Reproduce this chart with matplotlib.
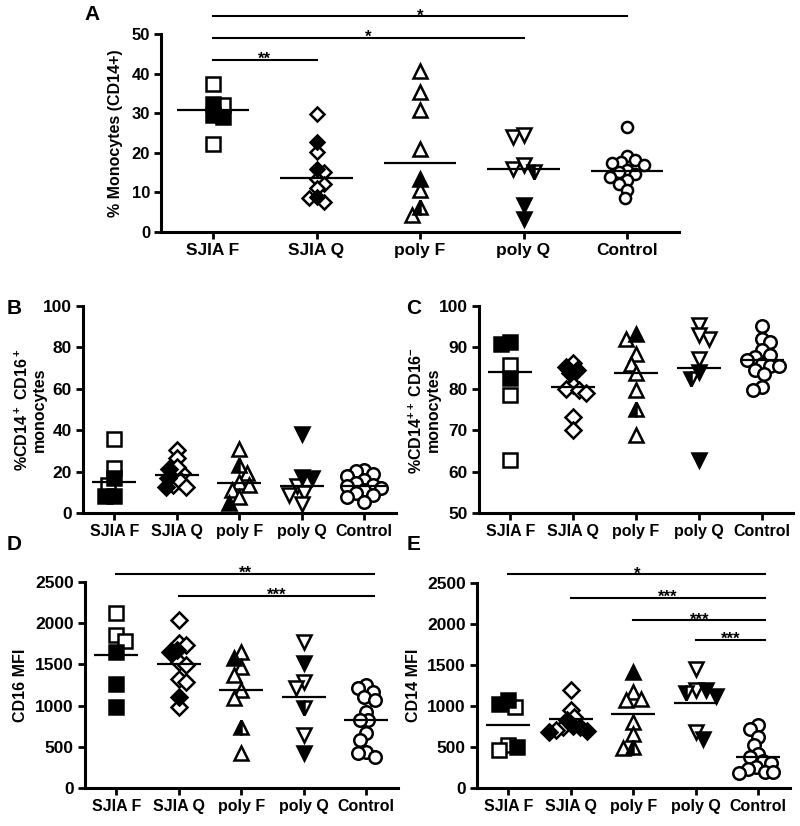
import numpy as np
import matplotlib
matplotlib.use("Agg")
import matplotlib.pyplot as plt

plt.rcParams['font.family'] = ['Liberation Sans', 'DejaVu Sans']
plt.rcParams['font.weight'] = 'bold'
plt.rcParams['mathtext.fontset'] = 'custom'
plt.rcParams['mathtext.rm'] = 'Liberation Sans:bold'
plt.rcParams['mathtext.bf'] = 'Liberation Sans:bold'
plt.rcParams['mathtext.default'] = 'bf'

groups = ['SJIA F', 'SJIA Q', 'poly F', 'poly Q', 'Control']
markers = ['s', 'D', '^', 'v', 'o']

# panel A - % monocytes
a_open = [[37.4, 32.1, 22.3], [29.8, 20.2, 13.5, 15.2, 12.2, 11.0, 7.6, 8.5],
          [40.7, 35.3, 30.7, 21.0, 10.6, 4.3], [24.0, 24.4, 16.0, 16.8],
          [26.5, 19.3, 17.7, 18.1, 17.3, 15.6, 16.8, 14.7, 15.2, 13.2, 13.9, 12.1, 10.6, 8.5]]
a_filled = [[29.6, 32.3, 29.0], [22.7, 16.0, 8.9], [13.5], [6.8, 3.4], []]
a_half = [[], [], [6.4], [15.2], []]
a_median = [30.8, 13.7, 17.3, 16.0, 15.4]
a_pairs = [(0, 1), (0, 3), (0, 4)]
a_stars = ['**', '*', '*']
a_levels = [43.5, 49.0, 54.5]

# panel B - CD14+ CD16+
b_open = [[36.0, 22.0, 13.5], [30.4, 26.6, 19.5, 18.4, 13.8, 22.5, 15.5, 12.8],
          [31.0, 19.2, 15.2, 13.5, 11.2, 8.0], [13.1, 9.6, 9.0, 4.5],
          [21.0, 20.5, 19.0, 18.0, 16.0, 14.5, 13.5, 13.0, 12.0, 11.0, 10.0, 9.0, 8.0, 5.5]]
b_filled = [[17.0, 8.5, 8.5], [21.5, 17.0, 12.5], [5.0], [38.0, 17.6, 16.8], []]
b_half = [[], [], [23.2], [], []]
b_median = [15.2, 18.4, 14.4, 13.1, 13.3]

# panel C - CD14++ CD16-
c_open = [[85.8, 78.4, 62.8], [86.1, 80.9, 80.0, 79.6, 78.9, 73.3, 70.1],
          [92.1, 88.3, 86.0, 83.7, 79.6, 68.8], [95.3, 92.1, 92.9, 87.3],
          [95.1, 92.1, 91.3, 89.3, 88.1, 87.7, 86.9, 86.0, 85.6, 85.6, 84.5, 83.6, 80.4, 79.6]]
c_filled = [[91.3, 90.9, 82.6], [85.3, 84.5, 83.7], [93.3], [84.0, 62.8], []]
c_half = [[], [], [75.2], [82.4], []]
c_median = [84.0, 80.4, 83.7, 84.9, 87.0]

# panel D - CD16 MFI
d_open = [[2125, 1855, 1786], [2036, 1762, 1734, 1532, 1492, 1319, 1290, 987],
          [1653, 1471, 1371, 1189, 1089, 423], [1774, 1290, 1210, 645],
          [1250, 1210, 1170, 1110, 1068, 927, 826, 826, 665, 584, 443, 423, 382]]
d_filled = [[1653, 1262, 987], [1673, 1653, 1108], [1573], [1512, 423], []]
d_half = [[], [], [745], [968], []]
d_median = [1610, 1500, 1195, 1100, 830]
d_pairs = [(0, 4), (1, 4)]
d_stars = ['**', '***']
d_levels = [2593, 2330]

# panel E - CD14 MFI
e_open = [[987, 524, 463], [1190, 955, 870, 745, 705], [1169, 1068, 1089, 806, 665, 484],
          [1452, 1190, 685],
          [770, 720, 625, 525, 420, 382, 330, 310, 260, 230, 200, 200, 180]]
e_filled = [[1028, 1068, 503], [830, 760, 700, 690, 740], [1411], [1190, 1120, 605], []]
e_half = [[], [], [503], [1160], []]
e_median = [766, 838, 907, 1036, 382]
e_pairs = [(0, 4), (1, 4), (2, 4), (3, 4)]
e_stars = ['*', '***', '***', '***']
e_levels = [2602, 2318, 2045, 1803]

W, H = 800, 826
fig = plt.figure(figsize=(W / 100, H / 100), dpi=100)


def make_ax(l, r, t, b, ylim, yticks, xsize=11.5, ysize=12.5):
    ax = fig.add_axes([l / W, 1 - b / H, (r - l) / W, (b - t) / H])
    ax.set_xlim(-0.5, 4.5)
    ax.set_ylim(*ylim)
    ax.set_yticks(yticks)
    ax.set_xticks(range(5))
    ax.set_xticklabels(groups)
    for s in ['top', 'right']:
        ax.spines[s].set_visible(False)
    for s in ['left', 'bottom']:
        ax.spines[s].set_linewidth(2.2)
    ax.tick_params(direction='out', length=5, width=2, pad=3)
    ax.tick_params(axis='x', labelsize=xsize)
    ax.tick_params(axis='y', labelsize=ysize)
    for lab in ax.get_xticklabels() + ax.get_yticklabels():
        lab.set_fontweight('bold')
    return ax


def swarm(ax, vals, diam):
    # simple beeswarm in pixel space, returns x offsets in data units
    if len(vals) == 0:
        return np.array([])
    vals = np.asarray(vals, float)
    ys = ax.transData.transform(np.column_stack([np.zeros(len(vals)), vals]))[:, 1]
    order = np.argsort(-vals)
    xs = np.zeros(len(vals))
    placed = []
    step = diam / 4.0
    for n, i in enumerate(order):
        found = None
        for k in range(80):
            signs = [0] if k == 0 else ([1, -1] if n % 2 == 0 else [-1, 1])
            for sg in signs:
                x = sg * k * step
                if all(np.hypot(x - xs[j], ys[i] - ys[j]) >= diam for j in placed):
                    found = x
                    break
            if found is not None:
                break
        xs[i] = found
        placed.append(i)
    ppu = ax.transData.transform((1, 0))[0] - ax.transData.transform((0, 0))[0]
    return xs / ppu


def draw_panel(ax, opn, fil, half, med, sizes, tight=0.68):
    for g in range(5):
        vals = list(opn[g]) + list(fil[g]) + list(half[g])
        kinds = ['o'] * len(opn[g]) + ['f'] * len(fil[g]) + ['h'] * len(half[g])
        ms = sizes[g]
        offs = swarm(ax, vals, ms * 1.39 * tight)
        for v, k, dx in sorted(zip(vals, kinds, offs), key=lambda t: {'o': 0, 'h': 1, 'f': 2}[t[1]]):
            kw = dict(marker=markers[g], ms=ms, mec='black', mew=1.8, ls='none', clip_on=False, zorder=3)
            if k == 'o':
                kw['mfc'] = 'white'
            elif k == 'f':
                kw['mfc'] = 'black'
            else:
                kw.update(mfc='black', fillstyle='left', markerfacecoloralt='white')
            ax.plot(g + dx, v, **kw)
        ax.hlines(med[g], g - 0.35, g + 0.35, color='black', lw=1.6, zorder=5)


def draw_sig(ax, pairs, stars, levels, ext=0.1):
    for (i, j), s, y in zip(pairs, stars, levels):
        ax.plot([i, j + ext], [y, y], color='black', lw=1.5, clip_on=False)
        ax.annotate(s, ((i + j + ext) / 2, y), xytext=(0, -3), textcoords='offset points',
                    ha='center', va='baseline', fontsize=12, fontweight='bold',
                    annotation_clip=False)


big = [9.5, 7.5, 10, 10, 8]
small = [9.5, 7.8, 10.5, 10.5, 9]

axA = make_ax(161.25, 678.75, 34, 232, (0, 50), range(0, 51, 10), xsize=12.5, ysize=12)
draw_panel(axA, a_open, a_filled, a_half, a_median, big, tight=0.75)
draw_sig(axA, a_pairs, a_stars, a_levels, ext=0.0)

axB = make_ax(83, 395.5, 305.6, 513.3, (0, 100), range(0, 101, 20))
draw_panel(axB, b_open, b_filled, b_half, b_median, small)

axC = make_ax(479, 793, 305.8, 513.3, (50, 100), range(50, 101, 10))
draw_panel(axC, c_open, c_filled, c_half, c_median, small)

axD = make_ax(85, 397.5, 581.7, 788.3, (0, 2500), range(0, 2501, 500))
draw_panel(axD, d_open, d_filled, d_half, d_median, small)
draw_sig(axD, d_pairs, d_stars, d_levels, ext=0.12)

axE = make_ax(477, 789.5, 582.7, 788.3, (0, 2500), range(0, 2501, 500))
draw_panel(axE, e_open, e_filled, e_half, e_median, small)
draw_sig(axE, e_pairs, e_stars, e_levels, ext=0.11)

# y labels
ylabs = [(116, 133, '% Monocytes (CD14+)'),
         (30, 410, '%CD14$^+$ CD16$^+$\nmonocytes'),
         (424, 410, '%CD14$^{++}$ CD16$^{-}$\nmonocytes'),
         (21, 685, 'CD16 MFI'),
         (413, 685, 'CD14 MFI')]
for x, y, s in ylabs:
    fig.text(x / W, 1 - y / H, s, rotation=90, ha='center', va='center',
             fontsize=11.5, fontweight='bold', multialignment='center', linespacing=1.1)

# panel letters
for x, y, s in [(92, 15, 'A'), (14, 308, 'B'), (414, 308, 'C'), (14, 545, 'D'), (414, 545, 'E')]:
    fig.text(x / W, 1 - y / H, s, ha='center', va='center', fontsize=15, fontweight='bold')

fig.savefig('out.png', dpi=100)
